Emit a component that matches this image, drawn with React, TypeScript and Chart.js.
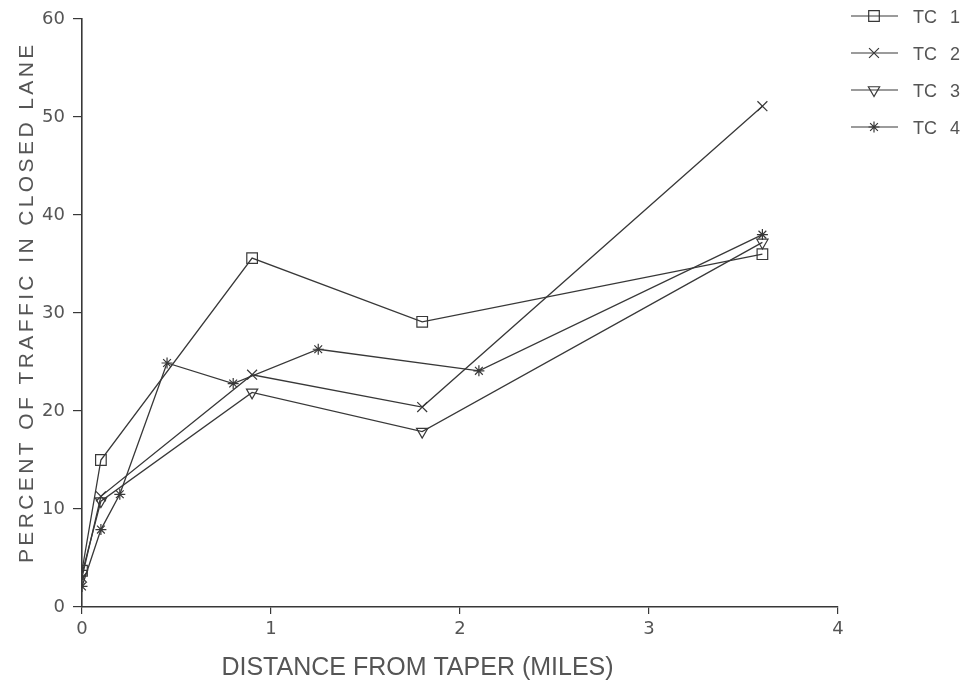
import React, { useEffect, useRef } from "react";
import { Chart, registerables } from "chart.js";
import { drawPoint } from "chart.js/helpers";

Chart.register(...registerables);

// Data
const seriesNames = ["TC 1", "TC 2", "TC 3", "TC 4"];
const xTC1 = [0, 0.1, 0.9, 1.8, 3.6];
const yTC1 = [3.7, 15.0, 35.6, 29.1, 36.0];
const xTC2 = [0, 0.1, 0.9, 1.8, 3.6];
const yTC2 = [3.0, 11.3, 23.7, 20.4, 51.1];
const xTC3 = [0, 0.1, 0.9, 1.8, 3.6];
const yTC3 = [3.4, 10.8, 21.9, 17.9, 37.2];
const xTC4 = [0, 0.1, 0.2, 0.45, 0.8, 1.25, 2.1, 3.6];
const yTC4 = [2.1, 7.9, 11.5, 24.9, 22.8, 26.3, 24.1, 38.0];
const xTicks = [0, 1, 2, 3, 4];
const yTicks = [0, 10, 20, 30, 40, 50, 60];
const xTitle = "DISTANCE FROM TAPER (MILES)";
const yTitle = "PERCENT OF TRAFFIC IN CLOSED LANE";

const INK = "#383838";
const TEXT = "#555555";
const FONT = "'Liberation Sans', Arial, sans-serif";
const TICKFONT = "'DejaVu Sans', sans-serif";

const markers = [
  { style: "rect", rotation: 0, radius: 7.5 },
  { style: "crossRot", rotation: 0, radius: 7 },
  { style: "triangle", rotation: 180, radius: 6.5 },
  { style: "star", rotation: 0, radius: 5.5 },
];

const zip = (xs: number[], ys: number[]) => xs.map((x, i) => ({ x, y: ys[i] }));

const decorPlugin = {
  id: "decor",
  afterDraw(chart: any) {
    const ctx = chart.ctx;
    const rows = [16, 53, 90, 127];
    ctx.save();
    chart.data.datasets.forEach((ds: any, i: number) => {
      const y = rows[i];
      ctx.strokeStyle = INK;
      ctx.lineWidth = 1.2;
      ctx.beginPath();
      ctx.moveTo(851, y);
      ctx.lineTo(898, y);
      ctx.stroke();
      ctx.fillStyle = "rgba(0,0,0,0)";
      drawPoint(ctx, { pointStyle: markers[i].style, rotation: markers[i].rotation, radius: markers[i].radius, borderWidth: 1.2 } as any, 874, y);
      ctx.fillStyle = TEXT;
      ctx.font = `18px ${FONT}`;
      ctx.textAlign = "left";
      ctx.textBaseline = "alphabetic";
      (ctx as any).wordSpacing = "8px";
      ctx.fillText(ds.label, 913, y + 7);
      (ctx as any).wordSpacing = "0px";
    });
    // axis titles
    const xs = chart.scales.x;
    const ys = chart.scales.y;
    ctx.fillStyle = TEXT;
    ctx.font = `25px ${FONT}`;
    ctx.textAlign = "center";
    ctx.textBaseline = "alphabetic";
    ctx.fillText(xTitle, xs.getPixelForValue(1.775), 675);
    ctx.save();
    ctx.translate(33, ys.getPixelForValue(31.1));
    ctx.rotate(-Math.PI / 2);
    ctx.font = `21px ${FONT}`;
    (ctx as any).letterSpacing = "3.4px";
    ctx.fillText(yTitle, 0, 0);
    ctx.restore();
    ctx.restore();
  },
};

export default function App() {
  const ref = useRef<HTMLCanvasElement | null>(null);
  useEffect(() => {
    document.body.style.margin = "0";
    if (!ref.current) return;
    const xs = [xTC1, xTC2, xTC3, xTC4];
    const ys = [yTC1, yTC2, yTC3, yTC4];
    const chart = new Chart(ref.current, {
      type: "scatter",
      data: {
        datasets: seriesNames.map((name, i) => ({
          label: name,
          data: zip(xs[i], ys[i]),
          showLine: true,
          borderColor: INK,
          borderWidth: 1.3,
          backgroundColor: "rgba(0,0,0,0)",
          pointStyle: markers[i].style as any,
          pointRotation: markers[i].rotation,
          pointRadius: markers[i].radius,
          pointBorderColor: INK,
          pointBorderWidth: 1.2,
          pointBackgroundColor: "rgba(0,0,0,0)",
          tension: 0,
        })),
      },
      options: {
        animation: false,
        responsive: false,
        layout: { padding: { left: 0, right: 125, top: 19, bottom: 0 } },
        plugins: { legend: { display: false }, tooltip: { enabled: false } },
        scales: {
          x: {
            type: "linear",
            min: 0,
            max: 4,
            afterBuildTicks: (s: any) => { s.ticks = xTicks.map((v) => ({ value: v })); },
            afterFit: (s: any) => { s.height = 76; },
            grid: { drawOnChartArea: false, drawTicks: true, tickLength: 7, color: INK, lineWidth: 1.2 },
            border: { color: INK, width: 1.6 },
            ticks: { color: TEXT, font: { family: TICKFONT, size: 18 }, padding: 5 },
          },
          y: {
            type: "linear",
            min: 0,
            max: 60,
            afterBuildTicks: (s: any) => { s.ticks = yTicks.map((v) => ({ value: v })); },
            afterFit: (s: any) => { s.width = 82; },
            grid: { drawOnChartArea: false, drawTicks: true, tickLength: 9, color: INK, lineWidth: 1.2 },
            border: { color: INK, width: 1.6 },
            ticks: { color: TEXT, font: { family: TICKFONT, size: 18 }, padding: 8 },
          },
        },
      },
      plugins: [decorPlugin],
    } as any);
    return () => chart.destroy();
  }, []);
  return (
    <div style={{ width: 963, height: 683 }}>
      <canvas ref={ref} width={963} height={683} />
    </div>
  );
}
